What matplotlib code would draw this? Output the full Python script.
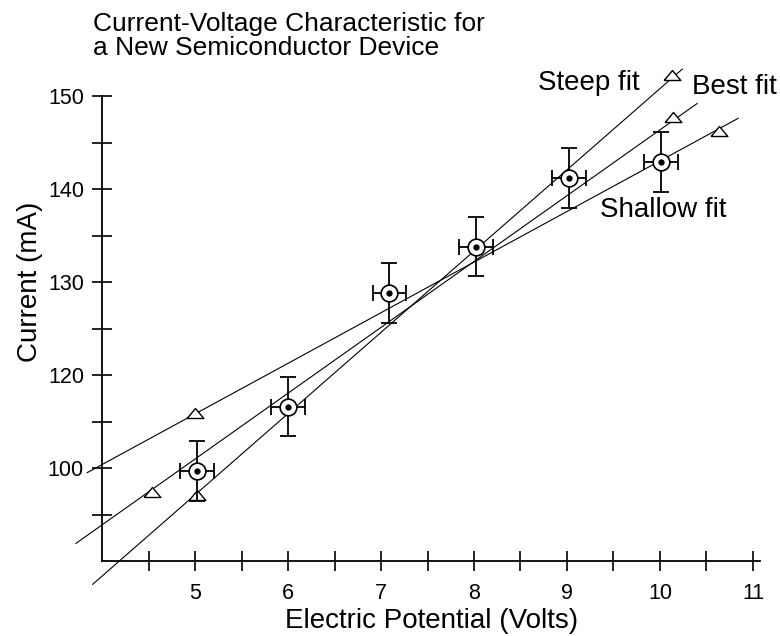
import numpy as np
import matplotlib.pyplot as plt
from matplotlib.ticker import FixedLocator

plt.rcParams['font.family'] = ['Liberation Sans', 'DejaVu Sans']

# --- measured points (y in the axis' own linear units) ---
voltage = [5.02, 6.00, 7.09, 8.02, 9.02, 10.01]
current = [109.7, 116.6, 128.8, 133.8, 141.2, 142.9]
volt_err = 0.18
curr_err = 3.2

# --- fit lines: end points and triangle markers ---
steep_x = [3.90, 10.24]
steep_y = [97.5, 152.9]
steep_tri_x = [5.02, 10.13]
steep_tri_y = [107.1, 152.3]

best_x = [3.72, 10.40]
best_y = [101.9, 149.2]
best_tri_x = [4.54, 10.14]
best_tri_y = [107.4, 147.7]

shallow_x = [3.84, 10.84]
shallow_y = [109.5, 147.6]
shallow_tri_x = [5.00, 10.63]
shallow_tri_y = [115.9, 146.2]

# tick labels exactly as printed on the original
y_tick_pos = [110, 120, 130, 140, 150]
y_tick_labels = ['100', '120', '130', '140', '150']
x_tick_pos = [5, 6, 7, 8, 9, 10, 11]

fig = plt.figure(figsize=(7.8, 6.36), dpi=100)
ax = fig.add_axes([0.1308, 0.1179, 0.8441, 0.7311])

tri = [(-1, -0.6), (1, -0.6), (0, 0.6), (-1, -0.6)]

for lx, ly, tx, ty in [(steep_x, steep_y, steep_tri_x, steep_tri_y),
                       (best_x, best_y, best_tri_x, best_tri_y),
                       (shallow_x, shallow_y, shallow_tri_x, shallow_tri_y)]:
    ax.plot(lx, ly, 'k-', lw=0.8, clip_on=False, zorder=2)
    ax.plot(tx, ty, linestyle='none', marker=tri, ms=12, mfc='white',
            mec='black', mew=1.0, clip_on=False, zorder=3)

ax.errorbar(voltage, current, xerr=volt_err, yerr=curr_err, fmt='none',
            ecolor='black', elinewidth=1.3, capsize=6, capthick=1.3,
            clip_on=False, zorder=4)
ax.plot(voltage, current, linestyle='none', marker='o', ms=12, mfc='white',
        mec='black', mew=1.2, clip_on=False, zorder=5)
ax.plot(voltage, current, linestyle='none', marker='o', ms=3.5, mfc='black',
        mec='black', clip_on=False, zorder=6)

ax.set_xlim(4, 11.08)
ax.set_ylim(100, 150)

ax.spines['top'].set_visible(False)
ax.spines['right'].set_visible(False)
for s in ['left', 'bottom']:
    ax.spines[s].set_linewidth(1.3)

ax.set_xticks(x_tick_pos)
ax.xaxis.set_minor_locator(FixedLocator(np.arange(4.5, 11, 1.0)))
ax.set_yticks(y_tick_pos)
ax.set_yticklabels(y_tick_labels)
ax.yaxis.set_minor_locator(FixedLocator(np.arange(105, 150, 10)))
ax.tick_params(which='both', direction='inout', length=14, width=1.2)
ax.tick_params(axis='x', labelsize=15.5, pad=9)
ax.tick_params(axis='y', labelsize=15.5, pad=6)

ax.set_xlabel('Electric Potential (Volts)', fontsize=20, va='center')
ax.xaxis.set_label_coords(0.5, -0.129)
ax.set_ylabel('Current (mA)', fontsize=20)
ax.yaxis.set_label_coords(-0.09, 0.6)

fig.text(93 / 780, 1 - 31 / 636, 'Current-Voltage Characteristic for',
         fontsize=19, ha='left', va='baseline')
fig.text(93 / 780, 1 - 55 / 636, 'a New Semiconductor Device',
         fontsize=19, ha='left', va='baseline')

ax.text(8.69, 151.4, 'Steep fit', fontsize=20, va='center', ha='left')
ax.text(10.34, 151.0, 'Best fit', fontsize=20, va='center', ha='left')
ax.text(9.35, 137.7, 'Shallow fit', fontsize=20, va='center', ha='left')

fig.savefig('out.png', dpi=100)
